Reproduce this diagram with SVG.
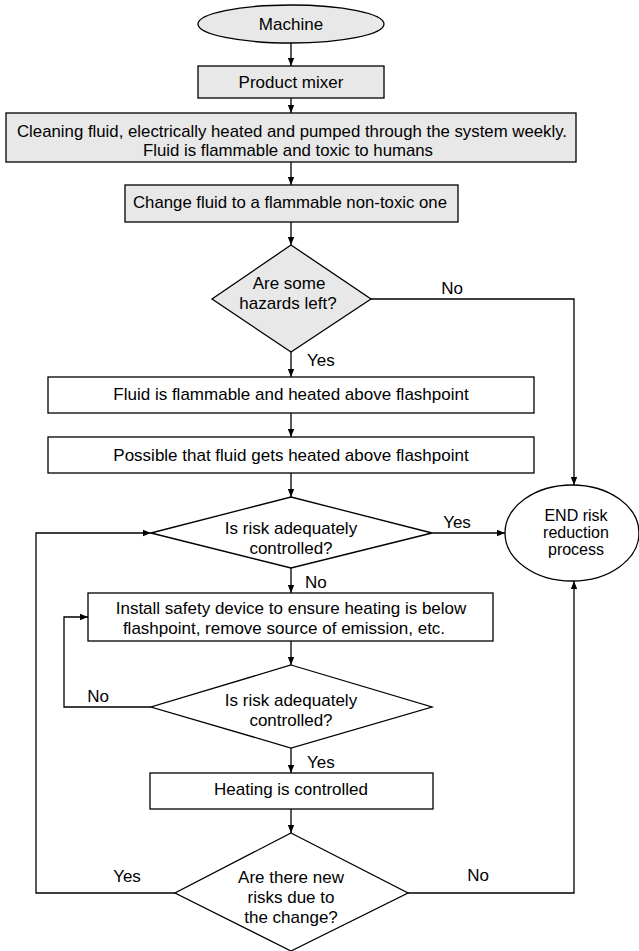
<svg xmlns="http://www.w3.org/2000/svg" width="639" height="951" viewBox="0 0 639 951">
<style>
.s{stroke:#000;stroke-width:1.3;}
.g{fill:#e8e8e8;}
.w{fill:#fff;}
text{font-family:"Liberation Sans",Arial,sans-serif;font-size:17px;fill:#000;}
.c{text-anchor:middle;}
.e{font-size:16px;}
.ln{fill:none;stroke:#000;stroke-width:1.3;}
</style>
<defs>
<marker id="ah" viewBox="0 0 10 10" refX="10" refY="5" markerWidth="8" markerHeight="8" markerUnits="userSpaceOnUse" orient="auto">
<path d="M0,1 L10,5 L0,9 z" fill="#000"/>
</marker>
</defs>
<rect width="639" height="951" fill="#fff"/>
<g id="connectors">
<line class="ln" x1="291" y1="43" x2="291" y2="66" marker-end="url(#ah)"/>
<line class="ln" x1="291" y1="98" x2="291" y2="113" marker-end="url(#ah)"/>
<line class="ln" x1="291" y1="162" x2="291" y2="185" marker-end="url(#ah)"/>
<line class="ln" x1="291" y1="222" x2="291" y2="245" marker-end="url(#ah)"/>
<line class="ln" x1="291" y1="352" x2="291" y2="377" marker-end="url(#ah)"/>
<line class="ln" x1="291" y1="413" x2="291" y2="437" marker-end="url(#ah)"/>
<line class="ln" x1="291" y1="473" x2="291" y2="497" marker-end="url(#ah)"/>
<line class="ln" x1="291" y1="568" x2="291" y2="593" marker-end="url(#ah)"/>
<line class="ln" x1="291" y1="641" x2="291" y2="665" marker-end="url(#ah)"/>
<line class="ln" x1="291" y1="748" x2="291" y2="773" marker-end="url(#ah)"/>
<line class="ln" x1="291" y1="809" x2="291" y2="833" marker-end="url(#ah)"/>
<polyline class="ln" points="371,299 574,299 574,485" marker-end="url(#ah)"/>
<line class="ln" x1="432" y1="533" x2="505" y2="533" marker-end="url(#ah)"/>
<polyline class="ln" points="408,893 574,893 574,581" marker-end="url(#ah)"/>
<polyline class="ln" points="175,893 36,893 36,533 151,533" marker-end="url(#ah)"/>
<polyline class="ln" points="151,707 64,707 64,617 88,617" marker-end="url(#ah)"/>
<text x="452" y="294" class="c">No</text>
<text x="307" y="366">Yes</text>
<text x="457" y="528" class="c">Yes</text>
<text x="305" y="588">No</text>
<text x="98" y="702" class="c">No</text>
<text x="307" y="768">Yes</text>
<text x="127" y="882" class="c">Yes</text>
<text x="478" y="881" class="c">No</text>
</g>
<g id="machine">
<ellipse class="s g" cx="291" cy="24" rx="93" ry="19"/>
<text x="291" y="30" class="c">Machine</text>
</g>
<g id="product-mixer">
<rect class="s g" x="198" y="66" width="186" height="32"/>
<text x="291" y="88" class="c">Product mixer</text>
</g>
<g id="cleaning-fluid">
<rect class="s g" x="6" y="113" width="570" height="49"/>
<text x="292" y="137" class="c" textLength="550" lengthAdjust="spacingAndGlyphs">Cleaning fluid, electrically heated and pumped through the system weekly.</text>
<text x="288" y="156" class="c" textLength="290" lengthAdjust="spacingAndGlyphs">Fluid is flammable and toxic to humans</text>
</g>
<g id="change-fluid">
<rect class="s g" x="125" y="185" width="333" height="37"/>
<text x="290" y="208" class="c" textLength="314" lengthAdjust="spacingAndGlyphs">Change fluid to a flammable non-toxic one</text>
</g>
<g id="hazards-left">
<polygon class="s g" points="291,245 371,299 291,352 212,299"/>
<text x="289" y="289" class="c">Are some</text>
<text x="288" y="309" class="c">hazards left?</text>
</g>
<g id="fluid-flammable">
<rect class="s w" x="48" y="377" width="486" height="36"/>
<text x="291" y="400" class="c">Fluid is flammable and heated above flashpoint</text>
</g>
<g id="possible-heated">
<rect class="s w" x="48" y="437" width="486" height="36"/>
<text x="291" y="461" class="c">Possible that fluid gets heated above flashpoint</text>
</g>
<g id="risk-controlled-1">
<polygon class="s w" points="291,497 432,533 291,568 151,533"/>
<text x="291" y="534" class="c">Is risk adequately</text>
<text x="291" y="554" class="c">controlled?</text>
</g>
<g id="end">
<ellipse class="s w" cx="572" cy="533" rx="67" ry="48"/>
<text x="576" y="521" class="c e">END risk</text>
<text x="576" y="538" class="c e">reduction</text>
<text x="576" y="555" class="c e">process</text>
</g>
<g id="install-safety">
<rect class="s w" x="88" y="593" width="405" height="48"/>
<text x="291" y="614" class="c">Install safety device to ensure heating is below</text>
<text x="284" y="634" class="c">flashpoint, remove source of emission, etc.</text>
</g>
<g id="risk-controlled-2">
<polygon class="s w" points="291,665 432,707 291,748 151,707"/>
<text x="291" y="706" class="c">Is risk adequately</text>
<text x="291" y="726" class="c">controlled?</text>
</g>
<g id="heating-controlled">
<rect class="s w" x="150" y="773" width="283" height="36"/>
<text x="291" y="795" class="c">Heating is controlled</text>
</g>
<g id="new-risks">
<polygon class="s w" points="291,833 408,893 291,951 175,893"/>
<text x="291" y="883" class="c">Are there new</text>
<text x="291" y="903" class="c">risks due to</text>
<text x="291" y="923" class="c">the change?</text>
</g>
</svg>
